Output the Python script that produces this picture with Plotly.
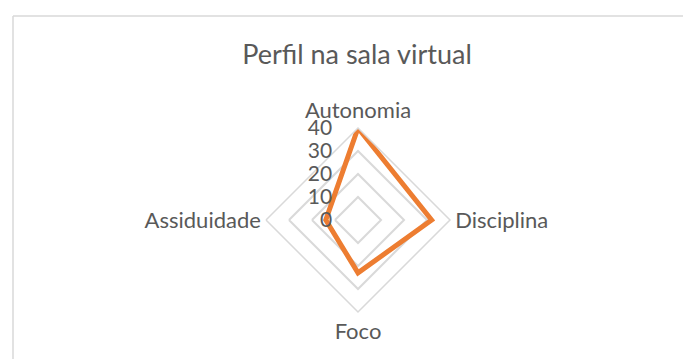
import plotly.graph_objects as go

categories = ["Autonomia", "Disciplina", "Foco", "Assiduidade"]
values = [40, 32, 23, 14]
radial_ticks = [0, 10, 20, 30, 40]
title_text = "Perfil na sala virtual"

W, H = 691, 359
OFF = 8  # page body offset
cx, cy, R = 358 - OFF, 220 - OFF, 92

fig = go.Figure()
fig.add_trace(go.Scatterpolar(
    r=values + values[:1],
    theta=categories + categories[:1],
    mode="lines",
    line=dict(color="#ED7D31", width=5),
    showlegend=False,
    hoverinfo="skip",
))

font_family = "Lato, Open Sans, sans-serif"
fig.update_layout(
    width=W, height=H,
    margin=dict(l=0, r=0, t=0, b=0),
    paper_bgcolor="white",
    plot_bgcolor="white",
    title=dict(text=title_text, x=(357 - OFF) / W, xanchor="center", y=1 - (55 - OFF) / H, yanchor="middle",
               font=dict(family=font_family, size=27, color="#595959")),
    polar=dict(
        domain=dict(x=[(cx - R) / W, (cx + R) / W], y=[(H - cy - R) / H, (H - cy + R) / H]),
        bgcolor="white",
        gridshape="linear",
        angularaxis=dict(
            direction="clockwise", rotation=90,
            showgrid=False, showline=True, linecolor="#d9d9d9", linewidth=1.5,
            ticks="", tickfont=dict(family=font_family, size=22, color="#595959"),
        ),
        radialaxis=dict(
            range=[0, 40], tickvals=radial_ticks, angle=90, side="counterclockwise",
            showline=False, showgrid=True, gridcolor="#d9d9d9", gridwidth=1.5,
            ticks="outside", ticklen=18, tickcolor="rgba(0,0,0,0)",
            tickfont=dict(family=font_family, size=21, color="#595959"),
            tickangle=90,
        ),
    ),
    shapes=[
        dict(type="line", xref="paper", yref="paper", x0=(13 - OFF) / W, x1=1.01,
             y0=1 - (16 - OFF) / H, y1=1 - (16 - OFF) / H,
             line=dict(color="#d9d9d9", width=1.5)),
        dict(type="line", xref="paper", yref="paper", x0=(13 - OFF) / W, x1=(13 - OFF) / W,
             y0=-0.01, y1=1 - (16 - OFF) / H,
             line=dict(color="#d9d9d9", width=1.5)),
    ],
)

fig.write_html("out.html")
